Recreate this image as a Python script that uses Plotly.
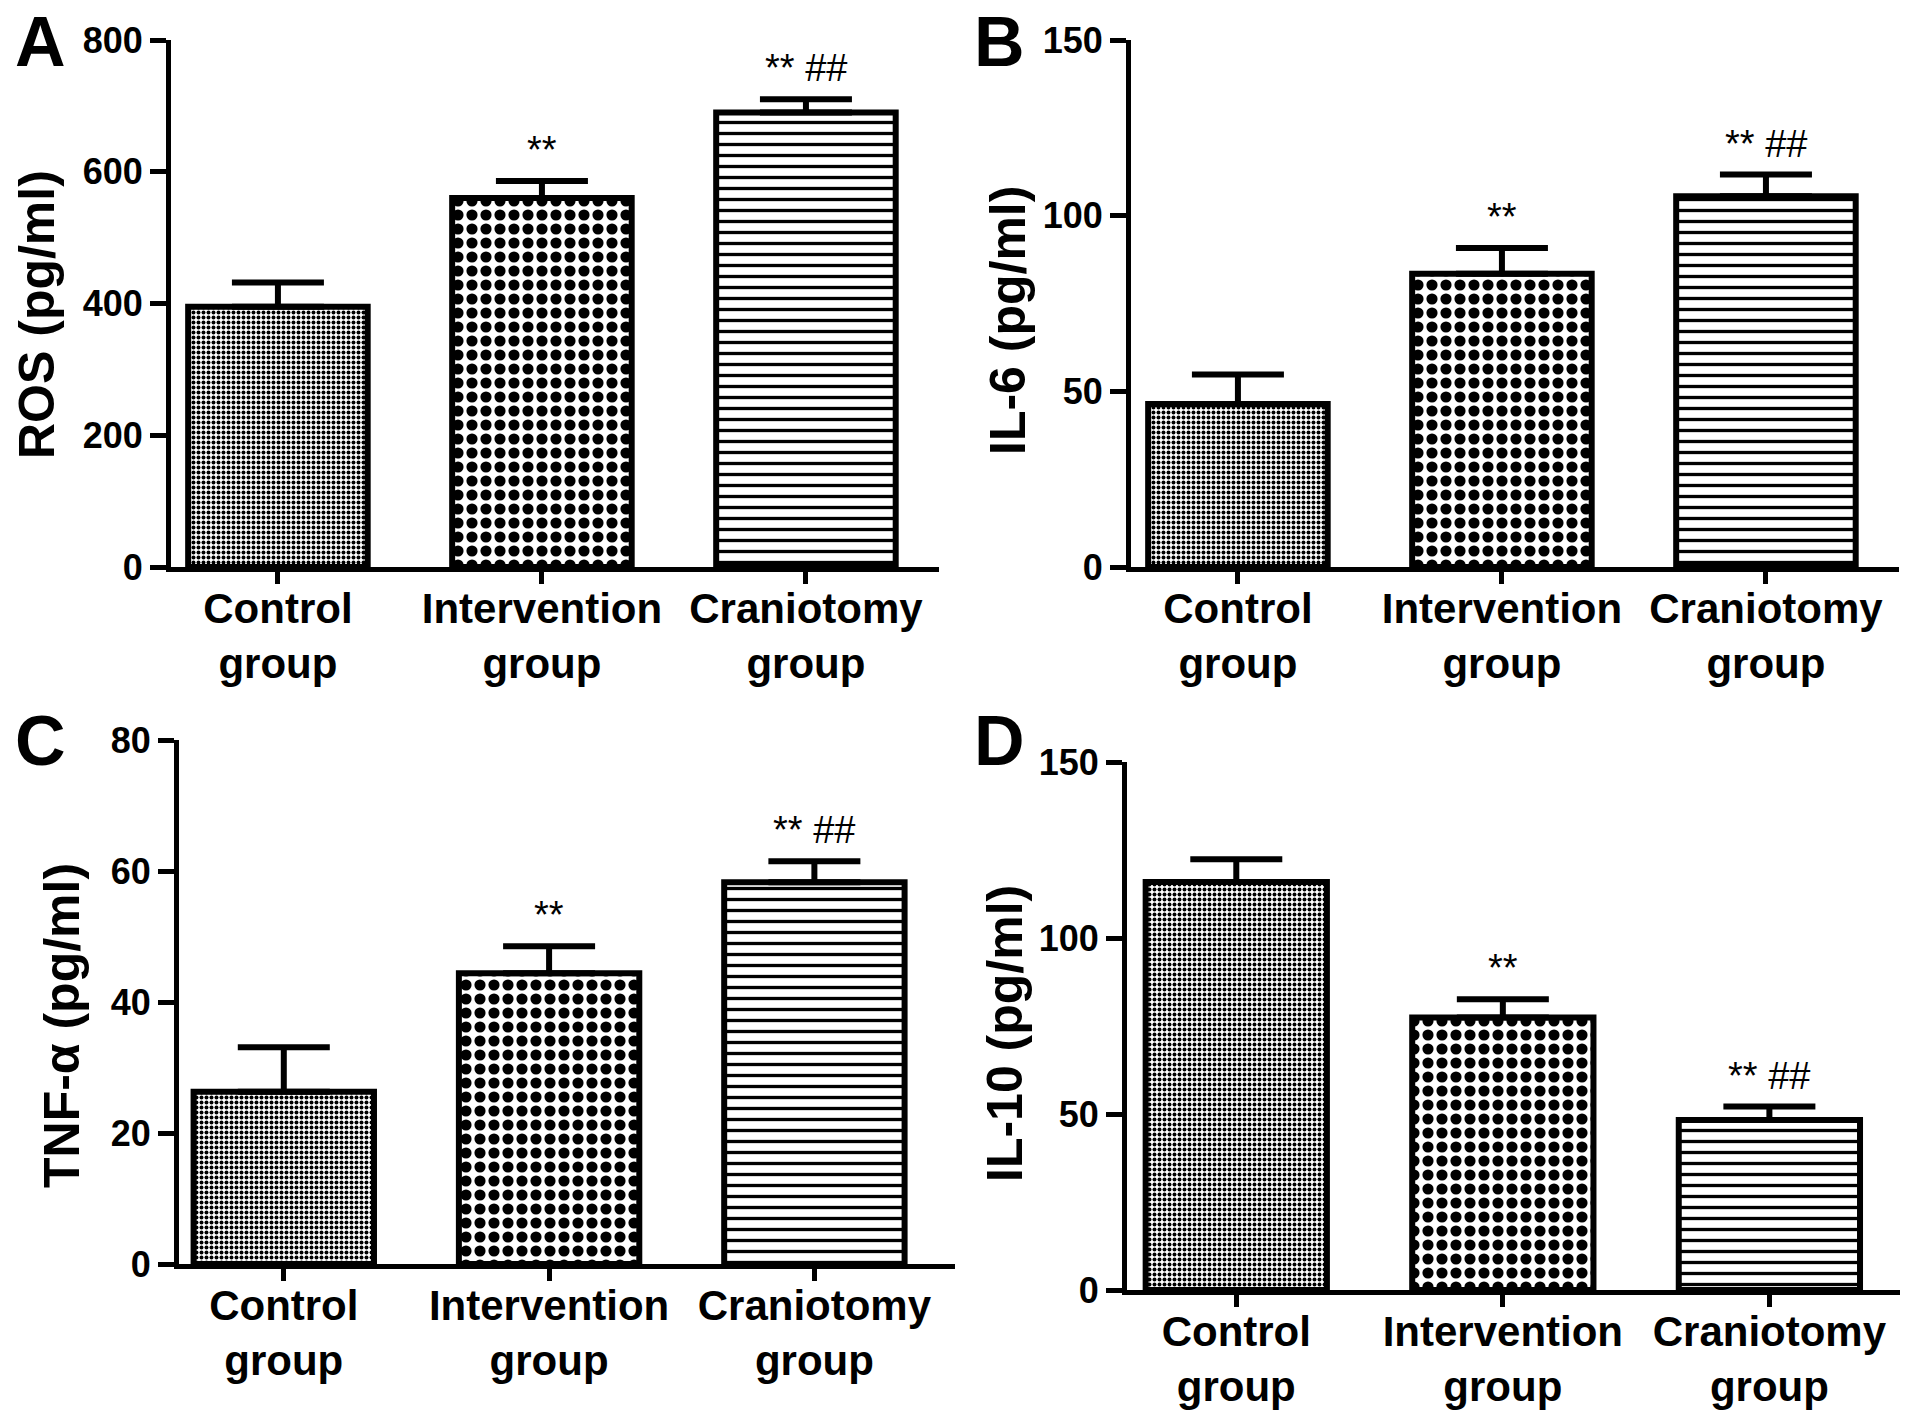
import plotly.graph_objects as go

W, H = 1913, 1415

categories = ["Control<br>group", "Intervention<br>group", "Craniotomy<br>group"]

ros_mean = [395, 560, 690]
ros_err = [37, 26, 20]
il6_mean = [46.4, 83.5, 105.5]
il6_err = [8.4, 7.3, 6.2]
tnf_mean = [26.3, 44.4, 58.3]
tnf_err = [6.8, 4.1, 3.2]
il10_mean = [115.9, 77.4, 48.3]
il10_err = [6.5, 5.2, 3.8]

sig_labels = ["", "**", "** ##"]

panel_letters = ["A", "B", "C", "D"]
y_titles = ["ROS (pg/ml)", "IL-6 (pg/ml)", "TNF-α (pg/ml)", "IL-10 (pg/ml)"]
y_max = [800, 150, 80, 150]
y_dtick = [200, 50, 20, 50]

FONT = "Liberation Sans, Arial, sans-serif"

# panel geometry in pixels: plot box (x_left, x_right), (y_top, y_bottom), x-range,
# y-title centre and panel-letter corner
panels = [
    dict(px=(171, 939), py=(40, 567), xr=(-0.405, 2.504), title=(37, 315), letter=(13, 1)),
    dict(px=(1131, 1899), py=(40, 567), xr=(-0.405, 2.504), title=(1008, 321), letter=(972, 1)),
    dict(px=(179, 955), py=(740, 1264), xr=(-0.395, 2.53), title=(62, 1026), letter=(13, 700)),
    dict(px=(1127, 1900), py=(762, 1290), xr=(-0.41, 2.49), title=(1005, 1034), letter=(972, 700)),
]

series = [(ros_mean, ros_err), (il6_mean, il6_err), (tnf_mean, tnf_err), (il10_mean, il10_err)]

fig = go.Figure()
annotations = []
layout_axes = {}

for i, (p, (mean, err)) in enumerate(zip(panels, series)):
    n = "" if i == 0 else str(i + 1)
    xa, ya = "x" + n, "y" + n
    fig.add_trace(go.Bar(
        x=categories, y=mean,
        xaxis=xa, yaxis=ya,
        marker=dict(
            color="white",
            line=dict(color="black", width=6),
            pattern=dict(shape=[".", ".", "-"], size=[5, 14, 11],
                         solidity=[0.5, 0.5, 0.3],
                         fgcolor="black", bgcolor="white", fillmode="replace"),
        ),
        error_y=dict(type="data", symmetric=False, array=err, arrayminus=[0, 0, 0],
                     color="black", thickness=6, width=46),
        showlegend=False,
    ))
    x0, x1 = p["px"]
    yt, yb = p["py"]
    layout_axes["xaxis" + n] = dict(
        domain=[x0 / W, x1 / W], anchor=ya, range=list(p["xr"]), type="category",
        showline=True, linecolor="black", linewidth=5, ticks="outside", ticklen=12,
        tickwidth=5, tickcolor="black", showgrid=False, zeroline=False,
        ticklabelstandoff=-11,
        tickfont=dict(family=FONT, size=42, color="black", weight="bold"),
        fixedrange=True,
    )
    layout_axes["yaxis" + n] = dict(
        domain=[1 - yb / H, 1 - yt / H], anchor=xa, range=[0, y_max[i]], dtick=y_dtick[i],
        tick0=0, showline=True, linecolor="black", linewidth=5, ticks="outside",
        ticklen=16, tickwidth=5, tickcolor="black", showgrid=False, zeroline=False,
        tickfont=dict(family=FONT, size=36, color="black", weight="bold"),
        fixedrange=True,
    )
    # y-axis title
    tx, ty = p["title"]
    annotations.append(dict(
        text=y_titles[i], xref="paper", yref="paper",
        x=tx / W, y=1 - ty / H, xanchor="center", yanchor="middle",
        textangle=-90, showarrow=False,
        font=dict(family=FONT, size=50, color="black", weight="bold"),
    ))
    # panel letter
    lx, ly = p["letter"]
    annotations.append(dict(
        text=panel_letters[i], xref="paper", yref="paper",
        x=lx / W, y=1 - ly / H, xanchor="left", yanchor="top", showarrow=False,
        font=dict(family=FONT, size=70, color="black", weight="bold"),
    ))
    # significance marks
    for c, m, e, s in zip(categories, mean, err, sig_labels):
        if s:
            annotations.append(dict(
                text=s, xref=xa, yref=ya, x=c, y=m + e, xanchor="center",
                yanchor="bottom", yshift=8, showarrow=False,
                font=dict(family=FONT, size=38, color="black"),
            ))

fig.update_layout(
    width=W, height=H,
    margin=dict(l=0, r=0, t=0, b=0),
    paper_bgcolor="white", plot_bgcolor="white",
    bargap=0.32,
    annotations=annotations,
    template="none",
    **layout_axes,
)

fig.write_html(
    "out.html",
    config={"displayModeBar": False},
    post_script="document.body.style.margin='0';document.body.style.overflow='hidden';",
)
